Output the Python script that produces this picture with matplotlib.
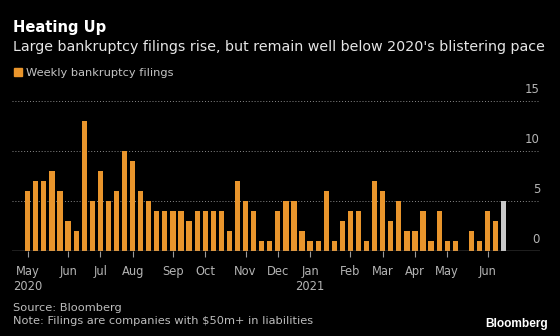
import matplotlib
matplotlib.use("Agg")
import matplotlib.pyplot as plt
import matplotlib.transforms as mtransforms
import numpy as np
import pandas as pd

# weekly large bankruptcy filings (weeks ending Saturday)
first_week = "2020-05-02"
filings = [6, 7, 7, 8, 6, 3, 2, 13, 5, 8, 5, 6, 10, 9, 6, 5, 4, 4, 4, 4,
           3, 4, 4, 4, 4, 2, 7, 5, 4, 1, 1, 4, 5, 5, 2, 1, 1, 6, 1, 3,
           4, 4, 1, 7, 6, 3, 5, 2, 2, 4, 1, 4, 1, 1, 0, 2, 1, 4, 3, 5]
y_ticks = [0, 5, 10, 15]

title = "Heating Up"
subtitle = "Large bankruptcy filings rise, but remain well below 2020's blistering pace"
legend_label = "Weekly bankruptcy filings"
source = "Source: Bloomberg"
note = "Note: Filings are companies with $50m+ in liabilities"

orange = "#E9952C"
grey_bar = "#C9C9C9"
bg = "#000000"

weeks = pd.date_range(first_week, periods=len(filings), freq="W-SAT")
x = np.arange(len(filings))
bar_colors = [orange] * (len(filings) - 1) + [grey_bar]  # last week still partial

# month ticks sit on the first week of each month
tick_pos = []
tick_lab = []
prev = None
for i, d in enumerate(weeks):
    if d.month != prev:
        lab = d.strftime("%b")
        if i == 0 or d.month == 1:
            lab += "\n" + str(d.year)
        tick_pos.append(i)
        tick_lab.append(lab)
        prev = d.month

plt.rcParams["font.family"] = "DejaVu Sans"

fig = plt.figure(figsize=(5.6, 3.36), dpi=100, facecolor=bg)
ax = fig.add_axes([12 / 560, 85 / 336, 528 / 560, 150 / 336], facecolor=bg)

ax.bar(x, filings, width=0.65, color=bar_colors, zorder=3)

ax.set_xlim(-1.95, 63.5)
ax.set_ylim(0, 15)

# dotted grid, solid baseline
for v in y_ticks[1:]:
    ax.axhline(v, color="#8A8A8A", lw=0.7, ls=(0, (1, 2)), zorder=1)
ax.axhline(0, color="#9A9A9A", lw=1.0, zorder=4)

# y labels on the right, sitting above the grid lines
trans = mtransforms.blended_transform_factory(ax.transAxes, ax.transData)
off = mtransforms.offset_copy(trans, fig=fig, x=0, y=5.5, units="points")
for v in y_ticks:
    ax.text(1.0, v, str(v), transform=off, ha="right", va="baseline",
            color="#B4B4B4", fontsize=8.5, clip_on=False)

ax.set_yticks([])
ax.set_xticks(tick_pos)
ax.set_xticklabels(tick_lab, color="#B4B4B4", fontsize=8.3, linespacing=1.2,
                   va="top")
ax.tick_params(axis="x", length=4, width=0.8, color="#9A9A9A", pad=6)
for s in ax.spines.values():
    s.set_visible(False)

# titles
fig.text(13 / 560, 1 - 32 / 336, title, color="white", fontsize=10.6,
         fontweight="bold", va="baseline")
fig.text(13 / 560, 1 - 51 / 336, subtitle, color="#E6E6E6", fontsize=10.3,
         va="baseline")

# legend
fig.patches.append(plt.Rectangle((14 / 560, 1 - 76 / 336), 8 / 560, 8 / 336,
                                 transform=fig.transFigure, color=orange))
fig.text(26 / 560, 1 - 76 / 336, legend_label, color="#C4C4C4", fontsize=8.2,
         va="baseline")

# footer
fig.text(13 / 560, 1 - 311 / 336, source, color="#BDBDBD", fontsize=8.2,
         va="baseline")
fig.text(13 / 560, 1 - 324 / 336, note, color="#BDBDBD", fontsize=8.2,
         va="baseline")
fig.text(548 / 560, 1 - 327 / 336, "Bloomberg", color="white", fontsize=8.6,
         fontweight="bold", ha="right", va="baseline",
         family="Liberation Sans")

fig.savefig("out.png", dpi=100, facecolor=bg)
